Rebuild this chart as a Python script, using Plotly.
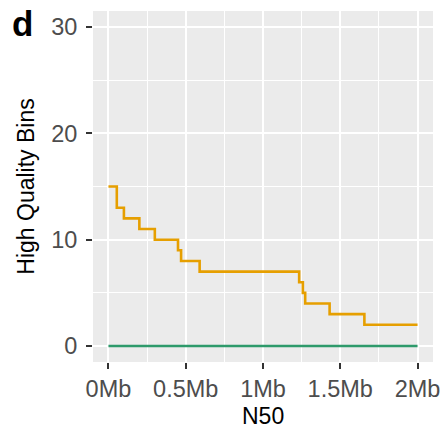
import plotly.graph_objects as go

# N50 thresholds (Mb) and number of high quality bins at or above each
n50_mb = [0, 0.054, 0.1, 0.2, 0.3, 0.45, 0.47, 0.59, 1.234, 1.258, 1.273, 1.431, 1.656, 2.0]
hq_bins_a = [15, 13, 12, 11, 10, 9, 8, 7, 6, 5, 4, 3, 2, 2]

n50_mb_b = [0, 2.0]
hq_bins_b = [0, 0]

x_ticks = [0, 0.5, 1, 1.5, 2]
x_tick_labels = ["0Mb", "0.5Mb", "1Mb", "1.5Mb", "2Mb"]
y_ticks = [0, 10, 20, 30]

fig = go.Figure()
fig.add_trace(go.Scatter(x=n50_mb, y=hq_bins_a, mode="lines", line_shape="hv",
                         line=dict(color="#E69F00", width=2.6), showlegend=False))
fig.add_trace(go.Scatter(x=n50_mb_b, y=hq_bins_b, mode="lines", line_shape="hv",
                         line=dict(color="#2E9A6B", width=2.4), showlegend=False))

font_family = "Liberation Sans, Arial, sans-serif"
axis_common = dict(
    showgrid=True, gridcolor="white", gridwidth=1.6,
    zeroline=False, showline=False, automargin=False,
    ticks="outside", ticklen=6, tickwidth=2.4, tickcolor="#333333",
    tickfont=dict(family=font_family, size=23.5, color="#4D4D4D"),
)

fig.update_layout(
    width=444, height=427,
    margin=dict(l=93, r=11, t=11, b=65),
    paper_bgcolor="white", plot_bgcolor="#EBEBEB",
    xaxis=dict(range=[-0.1, 2.1], tickvals=x_ticks, ticktext=x_tick_labels,
               minor=dict(tickvals=[0.25, 0.75, 1.25, 1.75], showgrid=True,
                          gridcolor="white", gridwidth=0.7, ticks=""),
               ticklabelstandoff=0,
               **axis_common),
    yaxis=dict(range=[-1.5, 31.5], tickvals=y_ticks,
               minor=dict(tickvals=[5, 15, 25], showgrid=True,
                          gridcolor="white", gridwidth=0.7, ticks=""),
               title=dict(text="High Quality Bins", font=dict(family=font_family, size=23, color="black"),
                          standoff=10),
               ticklabelstandoff=4,
               **axis_common),
    annotations=[
        dict(text="<b>d</b>", xref="paper", yref="paper", x=-0.206, y=0.963,
             xanchor="center", yanchor="middle", showarrow=False,
             font=dict(family=font_family, size=35, color="black")),
        dict(text="N50", xref="paper", yref="paper", x=0.5, y=-0.153,
             xanchor="center", yanchor="middle", showarrow=False,
             font=dict(family=font_family, size=23, color="black")),
    ],
)

fig.write_html("out.html")
